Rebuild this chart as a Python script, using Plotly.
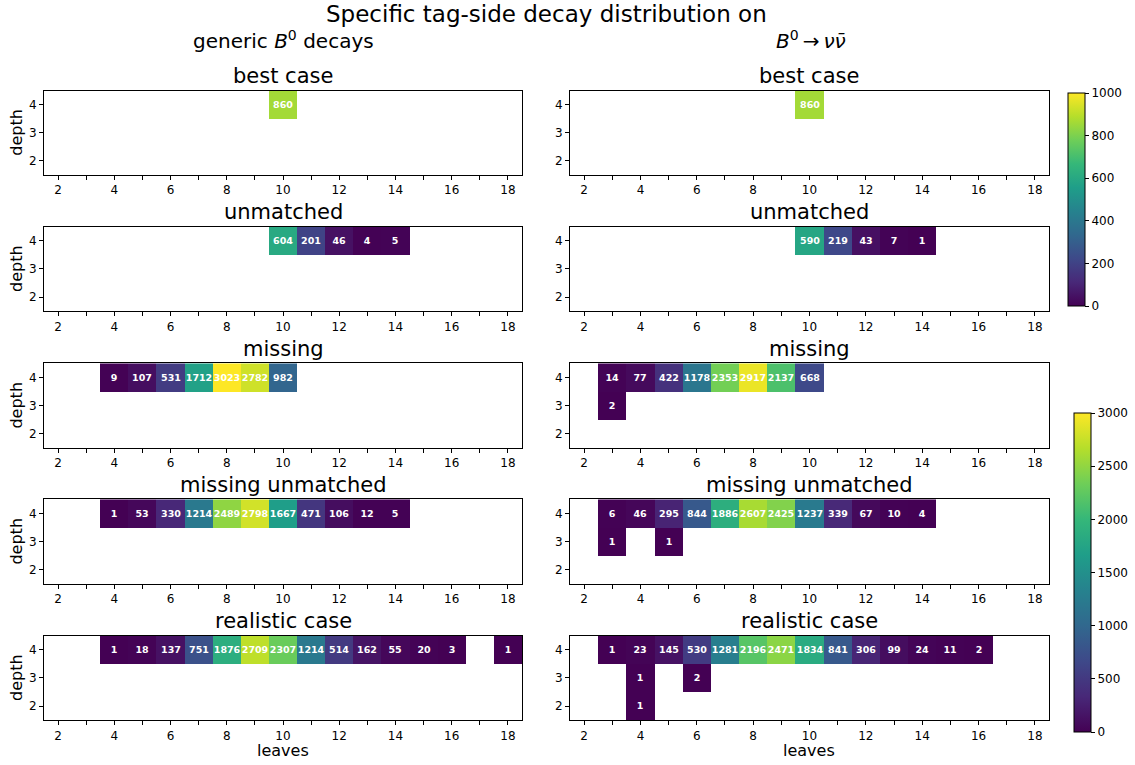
import plotly.graph_objects as go

W, H = 1135, 765

leaves = list(range(2, 19))
depths = [2, 3, 4]
panel_titles = ["best case", "unmatched", "missing", "missing unmatched", "realistic case"]
column_titles = ["generic <i>B</i><sup>0</sup> decays", "<i>B</i><sup>0</sup>\u2009\u2192\u2009<i>\u03bd\u03bd\u0304</i>"]
main_title = "Specific tag-side decay distribution on"

# each panel: {depth: (first leaf, counts along leaves)}
generic_best = {4: (10, [860])}
generic_unmatched = {4: (10, [604, 201, 46, 4, 5])}
generic_missing = {4: (4, [9, 107, 531, 1712, 3023, 2782, 982])}
generic_missing_unmatched = {4: (4, [1, 53, 330, 1214, 2489, 2798, 1667, 471, 106, 12, 5])}
generic_realistic = {4: (4, [1, 18, 137, 751, 1876, 2709, 2307, 1214, 514, 162, 55, 20, 3, None, 1])}

nunu_best = {4: (10, [860])}
nunu_unmatched = {4: (10, [590, 219, 43, 7, 1])}
nunu_missing = {4: (3, [14, 77, 422, 1178, 2353, 2917, 2137, 668]), 3: (3, [2])}
nunu_missing_unmatched = {4: (3, [6, 46, 295, 844, 1886, 2607, 2425, 1237, 339, 67, 10, 4]),
                          3: (3, [1, None, 1])}
nunu_realistic = {4: (3, [1, 23, 145, 530, 1281, 2196, 2471, 1834, 841, 306, 99, 24, 11, 2]),
                  3: (4, [1, None, 2]), 2: (4, [1])}

panels = [
    [generic_best, nunu_best],
    [generic_unmatched, nunu_unmatched],
    [generic_missing, nunu_missing],
    [generic_missing_unmatched, nunu_missing_unmatched],
    [generic_realistic, nunu_realistic],
]
row_coloraxis = ["coloraxis", "coloraxis", "coloraxis2", "coloraxis2", "coloraxis2"]


def grid(cells):
    z = [[None] * len(leaves) for _ in depths]
    for d, (start, vals) in cells.items():
        for i, v in enumerate(vals):
            if v is not None:
                z[depths.index(d)][leaves.index(start + i)] = v
    txt = [["" if v is None else str(v) for v in row] for row in z]
    return z, txt


FONT = "DejaVu Sans"
col_px = [(44, 522), (570, 1049)]
row_top = [90.5, 226.7, 363.3, 499.3, 635.7]
row_h = 84.5

fig = go.Figure()
layout = {}
annotations = []
idx = 0
for r in range(5):
    for c in range(2):
        idx += 1
        xa = "x" if idx == 1 else f"x{idx}"
        ya = "y" if idx == 1 else f"y{idx}"
        z, txt = grid(panels[r][c])
        fig.add_trace(go.Heatmap(
            x=leaves, y=depths, z=z, text=txt, texttemplate="%{text}",
            textfont=dict(color="white", size=9.5, family=FONT, weight="bold"),
            coloraxis=row_coloraxis[r], xaxis=xa, yaxis=ya, hoverongaps=False,
        ))
        x0, x1 = col_px[c]
        yt = row_top[r]
        yb = yt + row_h
        axis_common = dict(showline=True, mirror=True, linecolor="black", linewidth=1,
                           ticks="outside", ticklen=4, tickcolor="black", showgrid=False,
                           zeroline=False, tickfont=dict(size=12, family=FONT, color="black"))
        layout["xaxis" if idx == 1 else f"xaxis{idx}"] = dict(
            domain=[x0 / W, x1 / W], range=[1.5, 18.5], anchor=ya,
            tickmode="array", tickvals=leaves,
            ticktext=[str(l) if l % 2 == 0 else "" for l in leaves], **axis_common)
        layout["yaxis" if idx == 1 else f"yaxis{idx}"] = dict(
            domain=[1 - yb / H, 1 - yt / H], range=[1.5, 4.5], anchor=xa,
            tickmode="array", tickvals=depths, **axis_common)
        annotations.append(dict(text=panel_titles[r], x=(x0 + x1) / 2 / W, y=1 - (yt - 0.5) / H,
                                xref="paper", yref="paper", xanchor="center", yanchor="bottom",
                                showarrow=False, font=dict(size=21, family=FONT, color="black")))
        if c == 0:
            annotations.append(dict(text="depth", x=17 / W, y=1 - (yt + row_h / 2) / H,
                                    xref="paper", yref="paper", xanchor="center", yanchor="middle",
                                    textangle=-90, showarrow=False,
                                    font=dict(size=16, family=FONT, color="black")))
        if r == 4:
            annotations.append(dict(text="leaves", x=(x0 + x1) / 2 / W, y=1 - 750 / H,
                                    xref="paper", yref="paper", xanchor="center", yanchor="middle",
                                    showarrow=False, font=dict(size=16, family=FONT, color="black")))

annotations.append(dict(text=main_title, x=546 / W, y=1 - 14 / H, xref="paper", yref="paper",
                        xanchor="center", yanchor="middle", showarrow=False,
                        font=dict(size=23, family=FONT, color="black")))
annotations.append(dict(text=column_titles[0], x=283 / W, y=1 - 40 / H, xref="paper", yref="paper",
                        xanchor="center", yanchor="middle", showarrow=False,
                        font=dict(size=20, family=FONT, color="black")))
annotations.append(dict(text=column_titles[1], x=811 / W, y=1 - 40 / H, xref="paper", yref="paper",
                        xanchor="center", yanchor="middle", showarrow=False,
                        font=dict(size=20, family=FONT, color="black")))

cb_common = dict(thickness=17, thicknessmode="pixels", lenmode="fraction", xanchor="left",
                 yanchor="top", xpad=0, ypad=0, outlinewidth=1, outlinecolor="black",
                 ticks="outside", ticklen=4, tickcolor="black",
                 tickfont=dict(size=12, family=FONT, color="black"))

fig.update_layout(
    **layout,
    coloraxis=dict(cmin=0, cmax=1000, colorscale="Viridis",
                   colorbar=dict(x=1068 / W, y=1 - 93 / H, len=213 / H,
                                 tickvals=[0, 200, 400, 600, 800, 1000], **cb_common)),
    coloraxis2=dict(cmin=0, cmax=3000, colorscale="Viridis",
                    colorbar=dict(x=1074 / W, y=1 - 413 / H, len=319 / H,
                                  tickvals=[0, 500, 1000, 1500, 2000, 2500, 3000], **cb_common)),
    annotations=annotations,
    width=W, height=H, margin=dict(l=0, r=0, t=0, b=0),
    paper_bgcolor="white", plot_bgcolor="white",
    font=dict(family=FONT, color="black"),
    showlegend=False,
)

fig.write_html("out.html")
